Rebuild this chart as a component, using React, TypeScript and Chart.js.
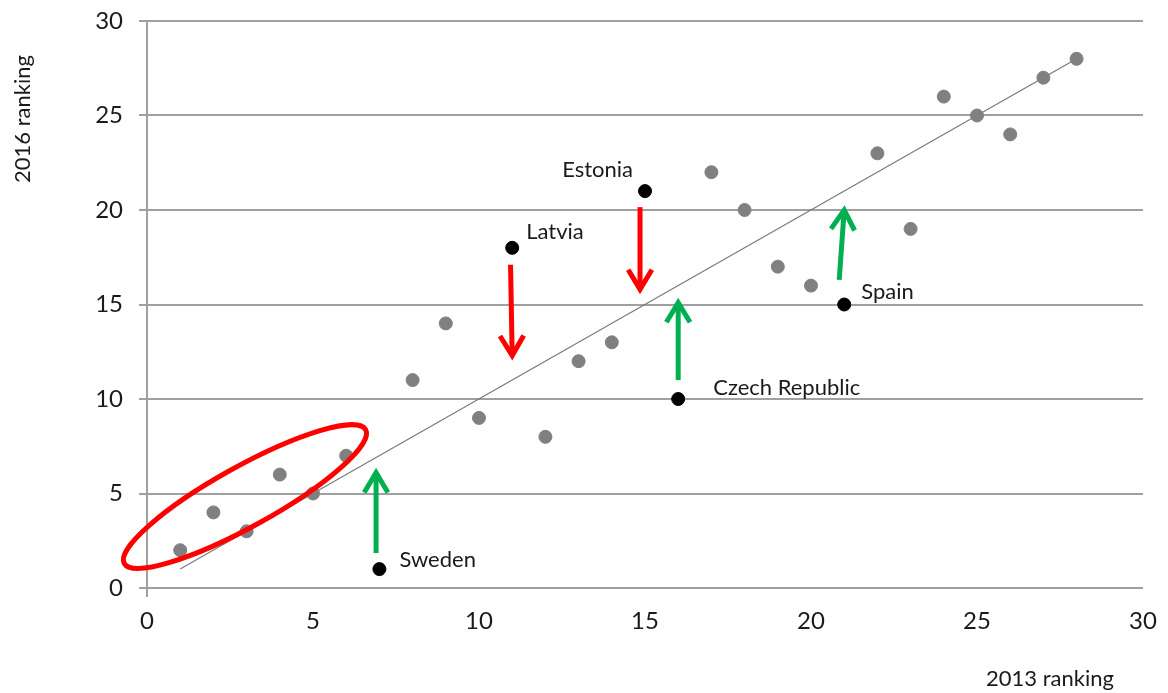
import React, { useEffect, useRef } from "react";
import { Chart, registerables } from "chart.js";

Chart.register(...registerables);

const FONT = "Lato, 'Open Sans', sans-serif";

// Grey countries: [2013 ranking, 2016 ranking]
const greyX = [1, 2, 3, 4, 5, 6, 8, 9, 10, 12, 13, 14, 17, 18, 19, 20, 22, 23, 24, 25, 26, 27, 28];
const greyY = [2, 4, 3, 6, 5, 7, 11, 14, 9, 8, 12, 13, 22, 20, 17, 16, 23, 19, 26, 25, 24, 27, 28];

// Highlighted countries
const hiNames = ["Sweden", "Latvia", "Estonia", "Czech Republic", "Spain"];
const hiX = [7, 11, 15, 16, 21];
const hiY = [1, 18, 21, 10, 15];

// Trend line
const trendX = [1, 28];
const trendY = [1, 28];

// Arrows (data coords): start -> end
const arrowX1 = [6.9, 10.95, 14.85, 16.0, 20.85];
const arrowY1 = [1.85, 17.1, 20.15, 11.0, 16.3];
const arrowX2 = [6.9, 11.0, 14.85, 16.0, 21.0];
const arrowY2 = [6.1, 12.3, 15.8, 15.1, 20.0];
const arrowColors = ["#00b050", "#ff0000", "#ff0000", "#00b050", "#00b050"];

// Ellipse around the leading group (centre in data coords)
const ellipseCX = [2.95];
const ellipseCY = [4.84];

const xTicks = [0, 5, 10, 15, 20, 25, 30];
const yTicks = [0, 5, 10, 15, 20, 25, 30];

// label placement (pixel offsets from the point, styling only)
const labelAlign = ["left", "left", "right", "left", "left"];
const labelDx = [20, 14, -12, 35, 17];
const labelDy = [-9, -16, -21, -11, -13];

const annotations = {
  id: "annotations",
  afterDatasetsDraw(chart: any) {
    const { ctx, scales } = chart;
    const xs = scales.x;
    const ys = scales.y;
    ctx.save();
    // ellipse
    for (let i = 0; i < ellipseCX.length; i++) {
      ctx.beginPath();
      ctx.strokeStyle = "#ff0000";
      ctx.lineWidth = 5;
      ctx.ellipse(
        xs.getPixelForValue(ellipseCX[i]),
        ys.getPixelForValue(ellipseCY[i]),
        138,
        30,
        (-29 * Math.PI) / 180,
        0,
        Math.PI * 2
      );
      ctx.stroke();
    }
    // arrows
    for (let i = 0; i < arrowX1.length; i++) {
      const x1 = xs.getPixelForValue(arrowX1[i]);
      const y1 = ys.getPixelForValue(arrowY1[i]);
      const x2 = xs.getPixelForValue(arrowX2[i]);
      const y2 = ys.getPixelForValue(arrowY2[i]);
      const ang = Math.atan2(y2 - y1, x2 - x1);
      ctx.strokeStyle = arrowColors[i];
      ctx.lineWidth = 5;
      ctx.lineCap = "butt";
      ctx.lineJoin = "miter";
      ctx.beginPath();
      ctx.moveTo(x1, y1);
      ctx.lineTo(x2 - Math.cos(ang) * 3, y2 - Math.sin(ang) * 3);
      ctx.stroke();
      const hl = 23;
      const ha = (31 * Math.PI) / 180;
      ctx.beginPath();
      ctx.moveTo(x2 - hl * Math.cos(ang - ha), y2 - hl * Math.sin(ang - ha));
      ctx.lineTo(x2, y2);
      ctx.lineTo(x2 - hl * Math.cos(ang + ha), y2 - hl * Math.sin(ang + ha));
      ctx.stroke();
    }
    // country labels
    ctx.fillStyle = "#1a1a1a";
    ctx.font = `22px ${FONT}`;
    ctx.textBaseline = "middle";
    for (let i = 0; i < hiNames.length; i++) {
      const px = xs.getPixelForValue(hiX[i]);
      const py = ys.getPixelForValue(hiY[i]);
      ctx.textAlign = labelAlign[i];
      ctx.fillText(hiNames[i], px + labelDx[i], py + labelDy[i]);
    }
    // axis titles
    ctx.font = `22px ${FONT}`;
    ctx.textAlign = "center";
    ctx.fillText("2013 ranking", 1050, 679);
    ctx.translate(23, 119);
    ctx.rotate(-Math.PI / 2);
    ctx.fillText("2016 ranking", 0, 0);
    ctx.restore();
  },
};

export default function App() {
  const ref = useRef<HTMLCanvasElement>(null);
  useEffect(() => {
    if (!ref.current) return;
    const chart = new Chart(ref.current, {
      type: "scatter",
      data: {
        datasets: [
          {
            label: "Countries",
            data: greyX.map((x, i) => ({ x, y: greyY[i] })),
            backgroundColor: "#808080",
            borderColor: "#808080",
            pointRadius: 6.5,
            order: 1,
          },
          {
            label: "Highlighted",
            data: hiX.map((x, i) => ({ x, y: hiY[i] })),
            backgroundColor: "#000000",
            borderColor: "#000000",
            pointRadius: 6.5,
            order: 1,
          },
          {
            type: "line",
            label: "Trend",
            data: trendX.map((x, i) => ({ x, y: trendY[i] })),
            borderColor: "#7a7a7a",
            borderWidth: 1.2,
            pointRadius: 0,
            fill: false,
            order: 2,
          } as any,
        ],
      },
      options: {
        animation: false,
        responsive: true,
        maintainAspectRatio: false,
        layout: { padding: { top: 21, right: 25, left: 0, bottom: 0 } },
        plugins: { legend: { display: false }, tooltip: { enabled: false } },
        scales: {
          x: {
            type: "linear",
            min: 0,
            max: 30,
            afterBuildTicks: (s: any) => {
              s.ticks = xTicks.map((v) => ({ value: v }));
            },
            afterFit: (s: any) => {
              s.height = 105;
            },
            grid: {
              drawOnChartArea: false,
              drawTicks: true,
              tickLength: 9,
              lineWidth: 2,
              color: (c: any) => (c.tick && c.tick.value === 0 ? "#a0a0a0" : "rgba(0,0,0,0)"),
            },
            border: { display: false },
            ticks: {
              color: "#1a1a1a",
              font: { family: FONT, size: 24 },
              padding: 10,
              maxRotation: 0,
            },
          },
          y: {
            type: "linear",
            min: 0,
            max: 30,
            afterBuildTicks: (s: any) => {
              s.ticks = yTicks.map((v) => ({ value: v }));
            },
            afterFit: (s: any) => {
              s.width = 147;
            },
            grid: {
              color: "#a0a0a0",
              lineWidth: 2,
              tickLength: 8,
            },
            border: { display: true, color: "#a0a0a0", width: 2 },
            ticks: {
              color: "#1a1a1a",
              font: { family: FONT, size: 24, lineHeight: 0.4 },
              padding: 16,
            },
          },
        },
      },
      plugins: [annotations],
    });
    return () => chart.destroy();
  }, []);
  return (
    <div style={{ position: "absolute", left: 0, top: 0, width: 1168, height: 693 }}>
      <canvas ref={ref} />
    </div>
  );
}
